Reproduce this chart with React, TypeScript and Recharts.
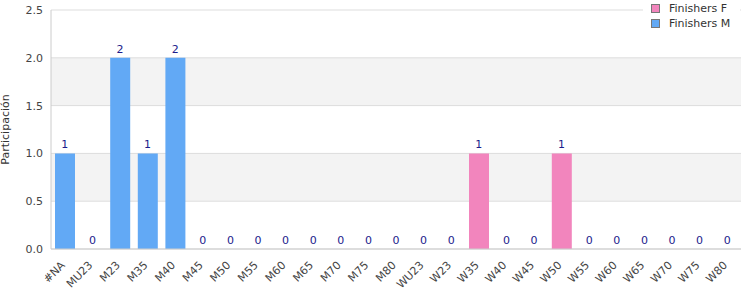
import React from "react";
import { ComposedChart, Bar, Line, XAxis, YAxis, CartesianGrid, LabelList } from "recharts";

const categories = ["#NA", "MU23", "M23", "M35", "M40", "M45", "M50", "M55", "M60", "M65", "M70", "M75", "M80", "WU23", "W23", "W35", "W40", "W45", "W50", "W55", "W60", "W65", "W70", "W75", "W80"];
const finishersM = [1, 0, 2, 1, 2, 0, 0, 0, 0, 0, 0, 0, 0, 0, 0, 0, 0, 0, 0, 0, 0, 0, 0, 0, 0];
const finishersF = [0, 0, 0, 0, 0, 0, 0, 0, 0, 0, 0, 0, 0, 0, 0, 1, 0, 0, 1, 0, 0, 0, 0, 0, 0];
const yTicks = [0, 0.5, 1, 1.5, 2, 2.5];

const data = categories.map((name, i) => ({
  name,
  F: finishersF[i],
  M: finishersM[i],
  total: finishersF[i] + finishersM[i],
}));

const FONT = "DejaVu Sans, Verdana, sans-serif";
const BLUE = "#62a9f5";
const PINK = "#f285bd";

const legendItems = [
  { label: "Finishers F", color: PINK },
  { label: "Finishers M", color: BLUE },
];

const XTick = (props: any) => {
  const { x, y, payload } = props;
  return (
    <g transform={`translate(${x - 2},${y + 6})`}>
      <text transform="rotate(-45)" textAnchor="end" fontSize={11} fill="#444" fontFamily={FONT} dy={4}>
        {payload.value}
      </text>
    </g>
  );
};

export default function App() {
  return (
    <div style={{ position: "fixed", top: 0, left: 0, width: 750, height: 300, background: "#fff" }}>
      <ComposedChart width={750} height={300} data={data} margin={{ top: 10, right: 9, left: 0, bottom: 0 }}>
        <CartesianGrid vertical={false} stroke="#dddddd" horizontalFill={["#ffffff", "#f3f3f3"]} fillOpacity={1} />
        <XAxis
          dataKey="name"
          interval={0}
          tickLine={false}
          axisLine={{ stroke: "#cccccc" }}
          tick={<XTick />}
          height={51}
        />
        <YAxis
          width={51}
          domain={[0, 2.5]}
          ticks={yTicks}
          tickFormatter={(v: number) => v.toFixed(1)}
          tickLine={false}
          axisLine={{ stroke: "#cccccc" }}
          tick={{ fontSize: 11, fill: "#444", fontFamily: FONT }}
          label={{ value: "Participación", angle: -90, position: "insideLeft", offset: 5, style: { fontSize: 11, fill: "#333", fontFamily: FONT, textAnchor: "middle" } }}
        />
        <YAxis yAxisId="r" orientation="right" width={0} tick={false} tickLine={false} axisLine={{ stroke: "#dddddd" }} domain={[0, 2.5]} />
        <Bar dataKey="F" name="Finishers F" stackId="a" fill={PINK} barSize={20} isAnimationActive={false} />
        <Bar dataKey="M" name="Finishers M" stackId="a" fill={BLUE} barSize={20} isAnimationActive={false} />
        <Line dataKey="total" stroke="none" dot={false} activeDot={false} legendType="none" isAnimationActive={false}>
          <LabelList dataKey="total" position="top" offset={5} fill="#1c1c8c" fontSize={11} fontFamily={FONT} />
        </Line>
      </ComposedChart>
      <div style={{ position: "absolute", top: 0, left: 643, width: 97, background: "#fff", fontFamily: FONT, fontSize: 11, color: "#333", padding: "1px 0 4px 8px", lineHeight: "15px", boxSizing: "border-box" }}>
        {legendItems.map((it) => (
          <div key={it.label} style={{ display: "flex", alignItems: "center" }}>
            <span style={{ display: "inline-block", width: 7, height: 7, background: it.color, border: "1px solid #777", marginRight: 9 }} />
            {it.label}
          </div>
        ))}
      </div>
    </div>
  );
}
